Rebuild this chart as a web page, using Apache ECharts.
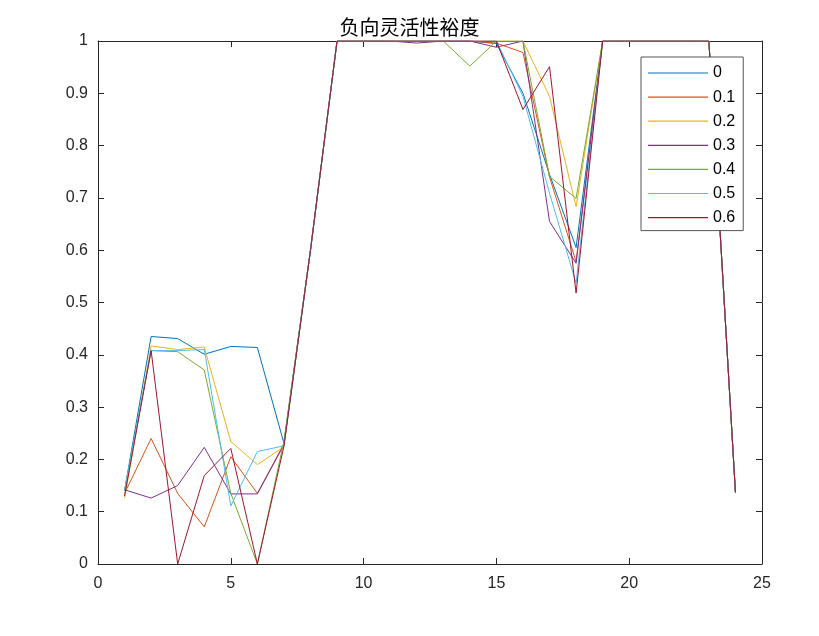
<!DOCTYPE html>
<html>
<head>
<meta charset="utf-8">
<script src="https://cdn.jsdelivr.net/npm/echarts@6/dist/echarts.min.js"></script>
<style>html,body{margin:0;padding:0;background:#fff;}#chart{width:819px;height:636px;}</style>
</head>
<body>
<div id="chart"></div>
<script>
var titleText = '负向灵活性裕度';
var xs = [1,2,3,4,5,6,7,8,9,10,11,12,13,14,15,16,17,18,19,20,21,22,23,24];
var seriesNames = ['0','0.1','0.2','0.3','0.4','0.5','0.6'];
var s0 = [0.140,0.435,0.431,0.401,0.416,0.414,0.231,0.600,1,1,1,1,1,1,0.995,0.900,0.745,0.605,1,1,1,1,1,0.137];
var s1 = [0.135,0.240,0.135,0.071,0.205,0.135,0.230,0.600,1,1,1,1,1,1,0.996,0.978,0.740,0.578,1,1,1,1,1,0.137];
var s2 = [0.126,0.417,0.410,0.415,0.234,0.190,0.224,0.600,1,1,1,1,1,1,1,1,0.894,0.683,1,1,1,1,1,0.137];
var s3 = [0.142,0.126,0.150,0.223,0.134,0.134,0.228,0.600,1,1,1,0.996,1,1,0.988,1,0.655,0.575,1,1,1,1,1,0.137];
var s4 = [0.140,0.408,0.406,0.371,0.135,0.000,0.235,0.600,1,1,1,1,1,0.952,1,1,0.741,0.699,1,1,1,1,1,0.137];
var s5 = [0.140,0.408,0.408,0.410,0.111,0.215,0.226,0.600,1,1,1,1,1,1,1,0.894,0.709,0.537,1,1,1,1,1,0.137];
var s6 = [0.130,0.408,0.000,0.169,0.221,0.000,0.225,0.600,1,1,1,1,1,1,1,0.869,0.951,0.518,1,1,1,1,1,0.137];
var allSeries = [s0,s1,s2,s3,s4,s5,s6];
var colors = ['#0072BD','#D95319','#EDB120','#7E2F8E','#77AC30','#4DBEEE','#A2142F'];

var axisColor = '#262626';
var fontFam = 'Liberation Sans, Arial, sans-serif';

var chart = echarts.init(document.getElementById('chart'), null, {renderer:'canvas'});
var series = allSeries.map(function(arr, i){
  return {
    name: seriesNames[i],
    type: 'line',
    xAxisIndex: 0, yAxisIndex: 0,
    symbol: 'none',
    showSymbol: false,
    lineStyle: {width: 1, color: colors[i]},
    itemStyle: {color: colors[i]},
    data: xs.map(function(x, j){ return [x, arr[j]]; })
  };
});
function xAx(pos, show){
  return {
    type:'value', position: pos, min:0, max:25, interval:5,
    axisLine:{show:true, onZero:false, lineStyle:{color:axisColor, width:1}},
    axisTick:{show:true, inside:true, length:6, lineStyle:{color:axisColor}},
    axisLabel:{show:show, color:axisColor, fontSize:16, fontFamily:fontFam, margin:12},
    splitLine:{show:false}
  };
}
function yAx(pos, show){
  return {
    type:'value', position: pos, min:0, max:1, interval:0.1,
    axisLine:{show:true, onZero:false, lineStyle:{color:axisColor, width:1}},
    axisTick:{show:true, inside:true, length:6, lineStyle:{color:axisColor}},
    axisLabel:{show:show, color:axisColor, fontSize:16, fontFamily:fontFam, margin:10,
      formatter:function(v){ return String(Math.round(v*10)/10); }},
    splitLine:{show:false}
  };
}
chart.setOption({
  animation:false,
  backgroundColor:'#fff',
  title:{text:titleText, left:'center', top:12, textStyle:{fontSize:20, fontWeight:'normal', color:'#000', fontFamily:'Noto Sans CJK SC'}},
  grid:{left:98, right:57, top:41, bottom:72, containLabel:false},
  xAxis:[xAx('bottom', true), xAx('top', false)],
  yAxis:[yAx('left', true), yAx('right', false)],
  legend:{
    orient:'vertical', left:641, top:57,
    backgroundColor:'#fff', borderColor:'#555', borderWidth:1,
    padding:[8,8,5,7], itemWidth:60, itemHeight:14, itemGap:8.1,
    icon:'path://M0,0 M60,14 M0,6.4 L60,6.4 L60,7.6 L0,7.6 Z',
    textStyle:{fontSize:16, fontFamily:fontFam, color:'#000', lineHeight:14},
    data: seriesNames
  },
  series: series
});
</script>
</body>
</html>
